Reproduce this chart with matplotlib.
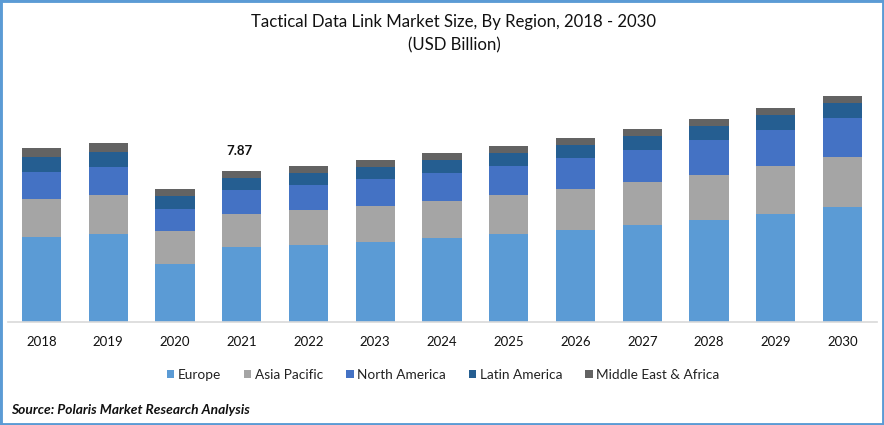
import numpy as np
from matplotlib import pyplot as plt
from matplotlib.patches import Rectangle

plt.rcParams['font.family'] = ['Lato', 'DejaVu Sans']

years = ['2018', '2019', '2020', '2021', '2022', '2023', '2024', '2025', '2026', '2027', '2028', '2029', '2030']
europe = [4.43, 4.59, 3.02, 3.91, 4.01, 4.17, 4.38, 4.59, 4.79, 5.05, 5.32, 5.63, 5.99]
asia_pacific = [1.98, 2.03, 1.72, 1.72, 1.82, 1.88, 1.93, 2.03, 2.14, 2.24, 2.34, 2.50, 2.61]
north_america = [1.41, 1.46, 1.15, 1.25, 1.30, 1.41, 1.46, 1.51, 1.62, 1.67, 1.82, 1.88, 2.03]
latin_america = [0.78, 0.78, 0.68, 0.63, 0.63, 0.63, 0.68, 0.68, 0.68, 0.73, 0.73, 0.78, 0.78]
mea = [0.47, 0.47, 0.36, 0.36, 0.36, 0.36, 0.36, 0.36, 0.36, 0.36, 0.36, 0.36, 0.36]

series = [('Europe', europe, '#5b9bd5'),
          ('Asia Pacific', asia_pacific, '#a5a5a5'),
          ('North America', north_america, '#4472c4'),
          ('Latin America', latin_america, '#255e91'),
          ('Middle East & Africa', mea, '#636363')]

W, H = 884, 425
fig = plt.figure(figsize=(W / 100, H / 100), dpi=100)

# axes box in pixels: x 8-877, y 60-322
ax = fig.add_axes([8 / W, 1 - 322 / H, 869 / W, 262 / H])
x = np.arange(len(years))
bottom = np.zeros(len(years))
handles = []
for name, vals, col in series:
    bars = ax.bar(x, vals, 0.585, bottom=bottom, color=col, label=name)
    handles.append(bars)
    bottom += np.array(vals)

ax.set_xlim((8 - 41.5) / 66.75, (877 - 41.5) / 66.75)
ax.set_ylim(0, 262 / 19.19)
ax.set_xticks(x)
ax.set_xticklabels(years, fontsize=9.5, color='#111111')
ax.tick_params(axis='x', length=0, pad=10)
ax.set_yticks([])
for s in ['top', 'left', 'right']:
    ax.spines[s].set_visible(False)
ax.spines['bottom'].set_color('#d9d9d9')
ax.spines['bottom'].set_linewidth(1.2)

ax.annotate('7.87', (3, bottom[3]), xytext=(-1.5, 14.5), textcoords='offset points', ha='center', va='center',
            fontsize=9.5, fontweight='bold', color='#111111')

fig.text(454 / W, 1 - 22 / H, 'Tactical Data Link Market Size, By Region, 2018 - 2030', ha='center', va='center',
         fontsize=12.05, color='#111111')
fig.text(454 / W, 1 - 45 / H, '(USD Billion)', ha='center', va='center', fontsize=12.05, color='#111111')

fig.legend(handles=handles, loc='center', bbox_to_anchor=(443 / W, 1 - 375 / H), ncol=5, frameon=False,
           fontsize=9.8, handlelength=0.55, handleheight=0.55, handletextpad=0.25, columnspacing=1.7,
           labelcolor='#222222')

fig.text(11 / W, 1 - 410 / H, 'Source: Polaris Market Research Analysis', ha='left', va='center',
         fontsize=9.9, fontweight='bold', fontstyle='italic', color='#111111')

# blue frame round the picture
fig.add_artist(Rectangle((0, 0), 1, 1, transform=fig.transFigure, fill=False, edgecolor='#5b9bd5', linewidth=3.5))

fig.savefig('out.png', dpi=100)
